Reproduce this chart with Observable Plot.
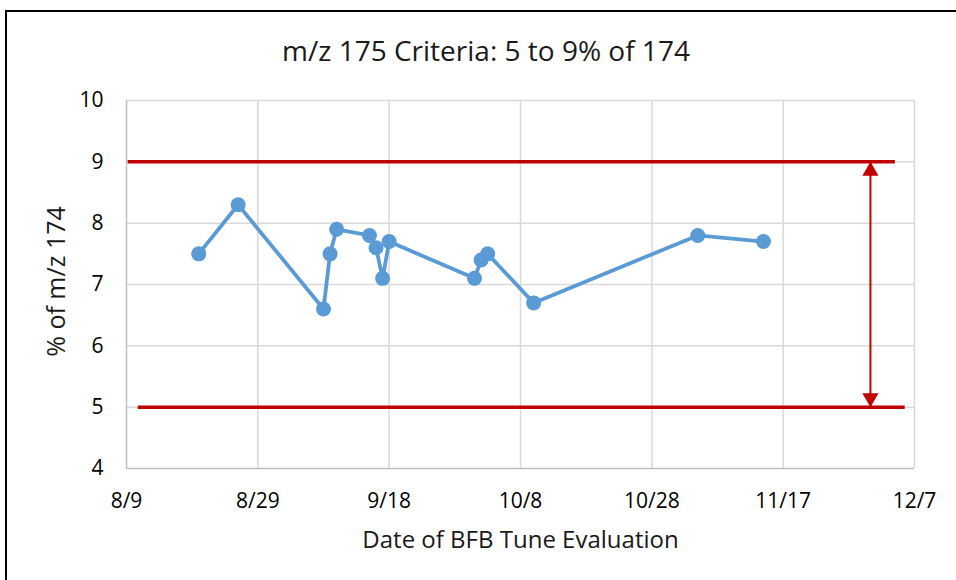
<!DOCTYPE html>
<html>
<head>
<meta charset="utf-8">
<script src="https://cdn.jsdelivr.net/npm/d3@7"></script>
<script src="https://cdn.jsdelivr.net/npm/@observablehq/plot@0.6"></script>
<style>
  html, body { margin: 0; padding: 0; background: #fff; }
  #wrap { position: relative; width: 956px; height: 580px; overflow: hidden; background: #fff; }
  #border { position: absolute; left: 5px; top: 10px; width: 2000px; height: 2000px; border: 2px solid #000; box-sizing: border-box; z-index: 5; pointer-events: none; }
  #title { position: absolute; left: 0; top: 36px; width: 972px; text-align: center; font-family: "Open Sans", sans-serif; font-size: 28px; line-height: 1; color: #1a1a1a; }
  #chart { position: absolute; left: 0; top: 80px; }
</style>
</head>
<body>
<div id="wrap">
  <div id="title">m/z 175 Criteria: 5 to 9% of 174</div>
  <div id="chart"></div>
  <div id="border"></div>
</div>
<script>
// ---- data ----
const dates = ["2015-08-20","2015-08-26","2015-09-08","2015-09-09","2015-09-10","2015-09-15","2015-09-16","2015-09-17","2015-09-18","2015-10-01","2015-10-02","2015-10-03","2015-10-10","2015-11-04","2015-11-14"];
const values = [7.5, 8.3, 6.6, 7.5, 7.9, 7.8, 7.6, 7.1, 7.7, 7.1, 7.4, 7.5, 6.7, 7.8, 7.7];
const xTickDates = ["2015-08-09","2015-08-29","2015-09-18","2015-10-08","2015-10-28","2015-11-17","2015-12-07"];
const yTicks = [4, 5, 6, 7, 8, 9, 10];
const limitValues = [9, 5];
const limitStarts = ["2015-08-09T06:00Z", "2015-08-10T19:00Z"];
const limitEnds = ["2015-12-04T02:00Z", "2015-12-05T14:00Z"];
const arrowDate = "2015-11-30T07:00Z";
const titleText = "m/z 175 Criteria: 5 to 9% of 174";
const xTitle = "Date of BFB Tune Evaluation";
const yTitle = "% of m/z 174";

// ---- build ----
const parse = s => new Date(s.length === 10 ? s + "T00:00Z" : s);
const points = dates.map((d, i) => ({date: parse(d), value: values[i]}));
const xTicks = xTickDates.map(parse);
const limits = limitValues.map((v, i) => ({value: v, x1: parse(limitStarts[i]), x2: parse(limitEnds[i])}));
const arrowX = parse(arrowDate);
const fmt = d => `${d.getUTCMonth() + 1}/${d.getUTCDate()}`;

document.getElementById("title").textContent = titleText;

const blue = "#5b9bd5";
const red = "#c00000";
const grid = "#d9d9d9";

const chart = Plot.plot({
  width: 956,
  height: 500,
  marginLeft: 126,
  marginRight: 42,
  marginTop: 20,
  marginBottom: 112,
  style: {fontFamily: "'Open Sans', sans-serif", fontSize: "21px", color: "#000", background: "transparent"},
  x: {type: "utc", domain: [xTicks[0], xTicks[xTicks.length - 1]], label: null},
  y: {domain: [yTicks[0], yTicks[yTicks.length - 1]], label: null},
  marks: [
    Plot.ruleX(xTicks.slice(1), {stroke: grid, strokeWidth: 1.5}),
    Plot.ruleY(yTicks.slice(1), {stroke: grid, strokeWidth: 1.5}),
    Plot.ruleX([xTicks[0]], {stroke: "#bfbfbf", strokeWidth: 1.5}),
    Plot.ruleY([yTicks[0]], {stroke: "#bfbfbf", strokeWidth: 1.5}),
    Plot.axisX({ticks: xTicks, tickFormat: fmt, tickSize: 0, tickPadding: 25, fill: "#000", fontSize: 21, label: null}),
    Plot.axisY({ticks: yTicks, tickFormat: d => String(d), tickSize: 0, tickPadding: 23, fill: "#000", fontSize: 21, label: null}),
    Plot.ruleY(limits, {y: "value", x1: "x1", x2: "x2", stroke: red, strokeWidth: 3.5}),
    Plot.ruleX([arrowX], {x: d => d, y1: limitValues[0], y2: limitValues[1], stroke: red, strokeWidth: 2}),
    Plot.dot([{x: arrowX, y: limitValues[0]}], {x: "x", y: "y", symbol: "triangle", r: 6, fill: red, stroke: "none", dy: 9.3}),
    Plot.dot([{x: arrowX, y: limitValues[1]}], {x: "x", y: "y", symbol: "triangle", r: 6, fill: red, stroke: "none", dy: -9.3, rotate: 180}),
    Plot.line(points, {x: "date", y: "value", stroke: blue, strokeWidth: 3.8}),
    Plot.dot(points, {x: "date", y: "value", r: 7.5, fill: blue, stroke: "none"}),
    Plot.text([xTitle], {frameAnchor: "bottom", text: d => d, dy: 72, fontSize: 24, fill: "#1a1a1a", textAnchor: "middle", lineAnchor: "middle"}),
    Plot.text([yTitle], {frameAnchor: "left", text: d => d, dx: -70, dy: -3, rotate: -90, fontSize: 25, fill: "#1a1a1a", textAnchor: "middle", lineAnchor: "middle"})
  ]
});
document.getElementById("chart").appendChild(chart);
</script>
</body>
</html>
